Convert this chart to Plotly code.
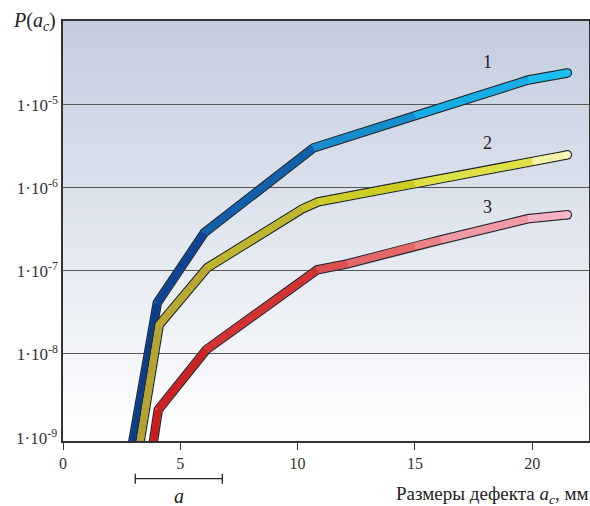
import math
import plotly.graph_objects as go

# ---------------- data ----------------
x1 = [2.97, 4.02, 6.02, 10.67, 15.0, 19.83, 21.5]
y1 = [8.5e-10, 4.11e-8, 2.87e-7, 3.03e-6, 7.4e-6, 2.0e-5, 2.43e-5]

x2 = [3.28, 4.10, 6.15, 10.2, 10.88, 15.0, 20.0, 21.5]
y2 = [8.5e-10, 2.23e-8, 1.09e-7, 5.58e-7, 6.78e-7, 1.12e-6, 2.08e-6, 2.5e-6]

x3 = [3.85, 4.06, 6.11, 10.84, 12.12, 15.0, 16.1, 19.8, 21.5]
y3 = [8.5e-10, 2.11e-9, 1.12e-8, 1.03e-7, 1.21e-7, 2.0e-7, 2.36e-7, 4.24e-7, 4.73e-7]

curve_labels = ["1", "2", "3"]
label_x = [18.1, 18.1, 18.1]
label_y = [3.3e-5, 3.45e-6, 5.8e-7]

x_ticks = [0, 5, 10, 15, 20]
y_ticks = [1e-8, 1e-7, 1e-6, 1e-5]
y_tick_text = ["1·10<sup>-8</sup>", "1·10<sup>-7</sup>", "1·10<sup>-6</sup>", "1·10<sup>-5</sup>"]
y_bottom_label = "1·10<sup>-9</sup>"

a_span = [3.08, 6.79]

# ---------------- styling ----------------
FONT = "Liberation Serif"
OUTLINE = "#262a30"

grad1 = [(0.0, "#0b3a8a"), (0.2, "#124c9e"), (0.45, "#1680c4"), (0.7, "#13a6e0"), (1.0, "#1cc0f0")]
grad2 = [(0.0, "#b3a236"), (0.2, "#b9ae30"), (0.45, "#c7c62a"), (0.7, "#d6dc22"), (0.85, "#e4e664"), (1.0, "#faf6c4")]
grad3 = [(0.0, "#cc1c1c"), (0.2, "#d02828"), (0.45, "#dc5252"), (0.7, "#ec8a8e"), (1.0, "#f6bad0")]


def hex2rgb(h):
    h = h.lstrip("#")
    return tuple(int(h[i:i + 2], 16) for i in (0, 2, 4))


def interp_color(stops, t):
    t = max(0.0, min(1.0, t))
    for (t0, c0), (t1, c1) in zip(stops[:-1], stops[1:]):
        if t0 <= t <= t1:
            f = 0 if t1 == t0 else (t - t0) / (t1 - t0)
            a, b = hex2rgb(c0), hex2rgb(c1)
            return "rgb(%d,%d,%d)" % tuple(round(a[k] + (b[k] - a[k]) * f) for k in range(3))
    return stops[-1][1]


fig = go.Figure()


def add_curve(xs, ys, stops):
    xmin, xmax = xs[0], xs[-1]
    fig.add_trace(go.Scatter(x=xs, y=ys, mode="lines", line=dict(color=OUTLINE, width=9.5),
                             hoverinfo="skip", showlegend=False))
    fig.add_trace(go.Scatter(x=[xs[-1]], y=[ys[-1]], mode="markers",
                             marker=dict(color=OUTLINE, size=9.5, line=dict(width=0)),
                             hoverinfo="skip", showlegend=False, cliponaxis=False))
    fig.add_trace(go.Scatter(x=xs, y=ys, mode="lines", line=dict(color=interp_color(stops, 0.5), width=7),
                             hoverinfo="skip", showlegend=False))
    for i in range(len(xs) - 1):
        t = ((xs[i] + xs[i + 1]) / 2 - xmin) / (xmax - xmin)
        fig.add_trace(go.Scatter(x=[xs[i], xs[i + 1]], y=[ys[i], ys[i + 1]], mode="lines",
                                 line=dict(color=interp_color(stops, t), width=7),
                                 hoverinfo="skip", showlegend=False))
    fig.add_trace(go.Scatter(x=[xs[-1]], y=[ys[-1]], mode="markers",
                             marker=dict(color=interp_color(stops, 1.0), size=7, line=dict(width=0)),
                             hoverinfo="skip", showlegend=False, cliponaxis=False))


add_curve(x1, y1, grad1)
add_curve(x2, y2, grad2)
add_curve(x3, y3, grad3)

# background gradient
shapes = []
N = 90
top_c, bot_c = hex2rgb("#c3cdde"), hex2rgb("#ffffff")
for i in range(N):
    f = i / (N - 1)
    c = tuple(round(bot_c[k] + (top_c[k] - bot_c[k]) * f) for k in range(3))
    shapes.append(dict(type="rect", xref="paper", yref="paper", x0=0, x1=1,
                       y0=i / N, y1=(i + 1) / N + 0.002, layer="below",
                       fillcolor="rgb(%d,%d,%d)" % c, line=dict(width=0)))

# bracket "a"
yb, yt0, yt1 = -0.0897, -0.0778, -0.1016
shapes.append(dict(type="line", xref="x", yref="paper", x0=a_span[0], x1=a_span[1], y0=yb, y1=yb,
                   line=dict(color="#222", width=1.3)))
for xa in a_span:
    shapes.append(dict(type="line", xref="x", yref="paper", x0=xa, x1=xa, y0=yt0, y1=yt1,
                       line=dict(color="#222", width=1.3)))

annotations = []
for t, lx, ly in zip(curve_labels, label_x, label_y):
    annotations.append(dict(x=lx, y=math.log10(ly), xref="x", yref="y", text=t, showarrow=False,
                            font=dict(family=FONT, size=18, color="#222")))

annotations.append(dict(x=-0.008, y=-9, xref="paper", yref="y", text=y_bottom_label, showarrow=False,
                        xanchor="right", yanchor="middle", font=dict(family=FONT, size=17, color="#333")))
annotations.append(dict(x=-0.099, y=0.998, xref="paper", yref="paper", xanchor="left", yanchor="middle",
                        text="<i>P</i>(<i>a<sub>c</sub></i>)", showarrow=False,
                        font=dict(family=FONT, size=20, color="#222")))
annotations.append(dict(x=0.629, y=-0.128, xref="paper", yref="paper", xanchor="left", yanchor="middle",
                        text="Размеры дефекта <i>a<sub>c</sub></i>, мм", showarrow=False,
                        font=dict(family=FONT, size=19, color="#222")))
annotations.append(dict(x=(a_span[0] + a_span[1]) / 2, y=-0.13, xref="x", yref="paper",
                        text="<i>a</i>", showarrow=False, yanchor="middle",
                        font=dict(family=FONT, size=20, color="#222")))

fig.update_layout(
    width=590, height=506,
    margin=dict(l=63, r=1, t=21, b=65),
    paper_bgcolor="white", plot_bgcolor="rgba(0,0,0,0)",
    shapes=shapes, annotations=annotations, showlegend=False,
    font=dict(family=FONT, color="#333"),
)
fig.update_xaxes(range=[0, 22.42], tickvals=x_ticks, ticks="outside", ticklen=7, tickcolor="#333",
                 showgrid=False, zeroline=False, showline=True, linecolor="#333", linewidth=1.5,
                 mirror=True, tickfont=dict(family=FONT, size=16, color="#333"))
fig.update_yaxes(type="log", range=[-9.052, -3.988], tickvals=y_ticks, ticktext=y_tick_text,
                 ticks="", showgrid=True, gridcolor="#555", gridwidth=1, zeroline=False,
                 showline=True, linecolor="#333", linewidth=1.5, mirror=True, automargin=False,
                 tickfont=dict(family=FONT, size=17, color="#333"))

fig.write_html("out.html", config={"displayModeBar": False},
               post_script="document.body.style.margin='0';document.body.style.overflow='hidden';")
